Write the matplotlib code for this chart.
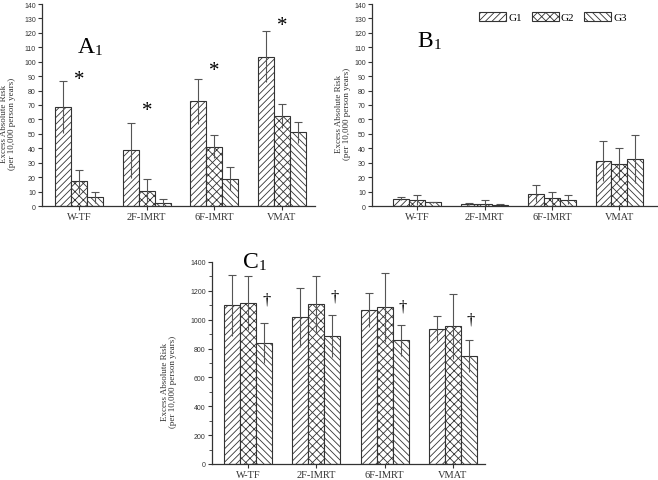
import matplotlib.pyplot as plt
import numpy as np

plt.rcParams['hatch.linewidth'] = 0.6
plt.rcParams['hatch.color'] = '#333333'

categories = ['W-TF', '2F-IMRT', '6F-IMRT', 'VMAT']
groups = ['G1', 'G2', 'G3']
hatches = ['/////', 'xxxx', '\\\\\\\\\\']

# panel A
a_vals = [[68.5, 38.5, 72.5, 103.5],
          [17.0, 10.5, 41.0, 62.5],
          [6.0, 2.0, 19.0, 51.0]]
a_errs = [[18.0, 19.0, 15.5, 17.5],
          [8.0, 8.5, 8.0, 8.5],
          [4.0, 3.0, 8.0, 7.5]]
a_star_y = [88, 66, 94, 125]

# panel B
b_vals = [[5.0, 1.5, 8.5, 31.0],
          [4.0, 1.5, 5.5, 29.0],
          [2.5, 1.0, 4.5, 32.5]]
b_errs = [[1.0, 0.5, 6.0, 14.0],
          [3.5, 2.5, 4.0, 11.0],
          [0.5, 0.5, 3.0, 16.5]]

# panel C
c_vals = [[1100, 1018, 1067, 937],
          [1116, 1111, 1086, 954],
          [840, 889, 856, 748]]
c_errs = [[210, 205, 118, 86],
          [185, 195, 238, 226],
          [140, 145, 107, 108]]
c_dagger_y = [1140, 1163, 1094, 1001]

serif = 'Liberation Serif'
sans = 'Liberation Sans'
W, H = 658, 481
fig = plt.figure(figsize=(W / 100, H / 100), dpi=100)


def px_axes(x0, x1, ytop, ybot):
    return fig.add_axes([x0 / W, 1 - ybot / H, (x1 - x0) / W, (ybot - ytop) / H])


def draw_panel(ax, vals, errs, ymax, ystep, xlim):
    x = np.arange(len(categories))
    w = 0.235
    for i, g in enumerate(groups):
        xi = x + (i - 1) * w
        v = np.array(vals[i], float)
        e = np.array(errs[i], float)
        ax.bar(xi, v, w, color='white', edgecolor='#333333', linewidth=0.8,
               hatch=hatches[i], label=g, zorder=2)
        ax.vlines(xi, v - e, v + e, color='#555555', linewidth=0.8, zorder=3)
        ax.plot(xi, v + e, ls='none', marker='_', ms=6, mew=0.8,
                color='#555555', zorder=3)
    ax.set_xlim(*xlim)
    ax.set_ylim(0, ymax)
    ax.set_yticks(np.arange(0, ymax + 1, ystep))
    ax.set_xticks(x)
    ax.set_xticklabels(categories, fontfamily=serif, fontsize=7.5)
    for lab in ax.get_yticklabels():
        lab.set_fontfamily(sans)
        lab.set_fontsize(5)
    for s in ['top', 'right']:
        ax.spines[s].set_visible(False)
    for s in ['left', 'bottom']:
        ax.spines[s].set_color('#333333')
        ax.spines[s].set_linewidth(0.9)
    ax.tick_params(axis='y', direction='out', length=3, width=0.8, pad=1.5, colors='#333333')
    ax.tick_params(axis='x', direction='out', length=3, width=0.8, pad=1, colors='#333333')
    ax.set_ylabel('Excess Absolute Risk\n(per 10,000 person years)',
                  fontfamily=serif, fontsize=6.5, color='#333333', linespacing=1.0)
    return x


def panel_label(ax, letter, xf, yf):
    t = ax.text(xf, yf, letter, transform=ax.transAxes, fontfamily=serif,
                fontsize=17, va='baseline', ha='left')
    ax.annotate('1', xy=(1, 0), xycoords=t, fontfamily=serif, fontsize=11,
                va='bottom', ha='left')


# A
axA = px_axes(42, 315, 5, 207)
x = draw_panel(axA, a_vals, a_errs, 140, 10, (-0.55, 3.49))
axA.yaxis.set_label_coords(-0.094, 0.41)
panel_label(axA, 'A', 0.13, 0.76)
for xi, yi in zip(x, a_star_y):
    axA.text(xi, yi, '*', ha='center', va='center', fontfamily=serif, fontsize=15)

# B
axB = px_axes(372, 657, 5, 207)
x = draw_panel(axB, b_vals, b_errs, 140, 10, (-0.67, 3.56))
axB.yaxis.set_label_coords(-0.074, 0.46)
panel_label(axB, 'B', 0.16, 0.79)
axB.legend(loc='center', bbox_to_anchor=(0.635, 0.935), ncol=3, frameon=False,
           prop={'family': serif, 'size': 8}, handlelength=2.4, handleheight=0.8,
           handletextpad=0.2, columnspacing=0.9, borderpad=0)

# C
axC = px_axes(212, 485, 263, 465)
x = draw_panel(axC, c_vals, c_errs, 1400, 200, (-0.53, 3.47))
axC.set_yticks(np.arange(100, 1400, 200), minor=True)
axC.tick_params(axis='y', which='minor', direction='out', length=2, width=0.6, colors='#333333')
axC.yaxis.set_label_coords(-0.13, 0.41)
panel_label(axC, 'C', 0.115, 0.975)
for xi, yi in zip(x + 0.235, c_dagger_y):
    axC.text(xi + 0.03, yi, '\u2020', ha='center', va='center', fontfamily=serif, fontsize=12)

fig.savefig('out.png', dpi=100)
